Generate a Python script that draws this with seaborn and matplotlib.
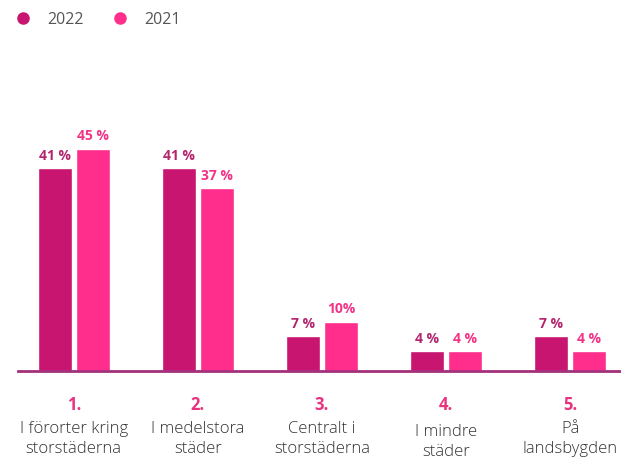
import pandas as pd
import seaborn as sns
import matplotlib.pyplot as plt
from matplotlib.lines import Line2D
from matplotlib.transforms import blended_transform_factory

numbers = ["1.", "2.", "3.", "4.", "5."]
categories = ["I förorter kring\nstorstäderna", "I medelstora\nstäder", "Centralt i\nstorstäderna",
              "I mindre\nstäder", "På\nlandsbygden"]
values_2022 = [41, 41, 7, 4, 7]
values_2021 = [45, 37, 10, 4, 4]
years = ["2022", "2021"]

colors = {"2022": "#c8156f", "2021": "#ff2e8c"}
label_colors = {"2022": "#b3266f", "2021": "#f23486"}

df = pd.DataFrame({
    "kat": categories * 2,
    "år": ["2022"] * 5 + ["2021"] * 5,
    "andel": values_2022 + values_2021,
})

sns.set_style("white")
plt.rcParams["font.family"] = ["Open Sans", "DejaVu Sans"]

fig = plt.figure(figsize=(6.21, 4.62), dpi=100)
ax = fig.add_axes([0.029, 0.197, 0.971, 0.535])

sns.barplot(data=df, x="kat", y="andel", hue="år", hue_order=years, palette=colors,
            width=0.613, gap=0.105, saturation=1, legend=False, ax=ax)

for cont, yr in zip(ax.containers, years):
    ax.bar_label(cont, labels=[f"{v:g} %" if v != 10 else "10%" for v in cont.datavalues],
                 padding=4, fontsize=10, fontweight="bold", color=label_colors[yr])

ax.set_ylim(0, 50)
ax.set_xlim(-0.45, 4.41)
ax.set_xlabel("")
ax.set_ylabel("")
ax.set_yticks([])
ax.set_xticks([])
for s in ["top", "right", "left"]:
    ax.spines[s].set_visible(False)
ax.spines["bottom"].set_color("#a3307b")
ax.spines["bottom"].set_linewidth(2)

tr = blended_transform_factory(ax.transData, fig.transFigure)
for i, (n, c) in enumerate(zip(numbers, categories)):
    ax.text(i, 1 - 405 / 462, n, transform=tr, ha="center", va="center",
            fontsize=12, fontweight="bold", color="#e8337f")
    dy = 3 if i == 3 else 0
    ax.text(i, 1 - (439 + dy) / 462, c, transform=tr, ha="center", va="center",
            fontsize=12, color="#333333", linespacing=1.3, fontweight="light")

handles = [Line2D([], [], marker="o", ls="", markersize=8, color=colors[y]) for y in years]
fig.legend(handles, years, loc="center left", bbox_to_anchor=(7 / 621, 1 - 20 / 462), ncol=2,
           frameon=False, fontsize=11.5, handletextpad=0.5, columnspacing=1.3,
           borderpad=0, borderaxespad=0, labelcolor="#555555")

fig.savefig("out.png", dpi=100)
